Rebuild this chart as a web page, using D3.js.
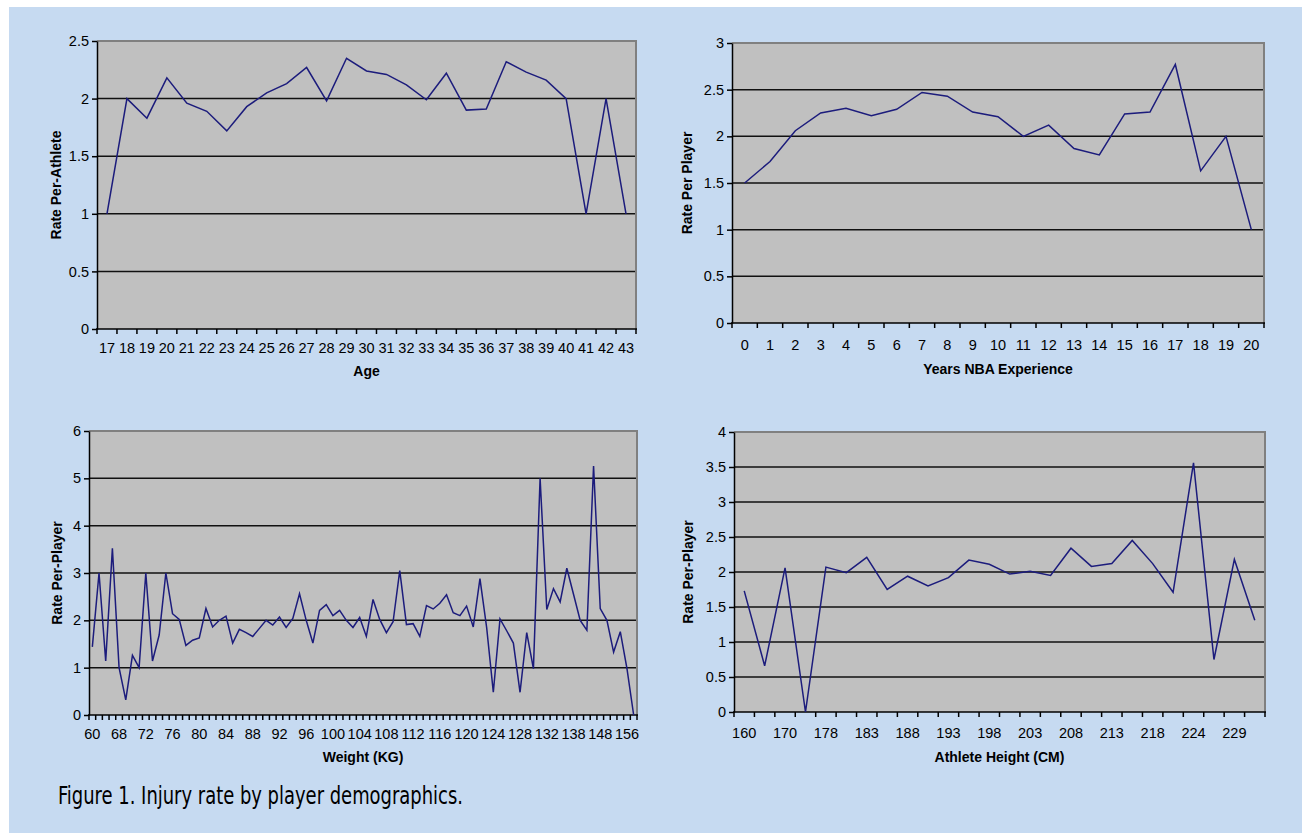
<!DOCTYPE html>
<html>
<head>
<meta charset="utf-8">
<script src="https://cdn.jsdelivr.net/npm/d3@7"></script>
<style>
  body { margin: 0; background: #fff; }
  svg { display: block; }
  text { font-family: "Liberation Sans", Arial, sans-serif; fill: #000; }
</style>
</head>
<body>
<svg id="fig" width="1302" height="833"></svg>
<script>
// --- data ---
const ageCats = [17, 18, 19, 20, 21, 22, 23, 24, 25, 26, 27, 28, 29, 30, 31, 32, 33, 34, 35, 36, 37, 38, 39, 40, 41, 42, 43];
const ageRates = [1.0, 2.0, 1.83, 2.18, 1.96, 1.89, 1.72, 1.93, 2.05, 2.13, 2.27, 1.98, 2.35, 2.24, 2.21, 2.12, 1.99, 2.22, 1.90, 1.91, 2.32, 2.23, 2.16, 2.0, 1.0, 2.0, 1.0];
const ageTicks = [0, 0.5, 1, 1.5, 2, 2.5];

const expCats = [0, 1, 2, 3, 4, 5, 6, 7, 8, 9, 10, 11, 12, 13, 14, 15, 16, 17, 18, 19, 20];
const expRates = [1.5, 1.73, 2.06, 2.25, 2.30, 2.22, 2.29, 2.47, 2.43, 2.26, 2.21, 2.0, 2.12, 1.87, 1.80, 2.24, 2.26, 2.77, 1.63, 2.0, 1.0];
const expTicks = [0, 0.5, 1, 1.5, 2, 2.5, 3];

const weightCats = [60, 62, 64, 66, 68, 69, 70, 71, 72, 73, 74, 75, 76, 77, 78, 79, 80, 81, 82, 83,
  84, 85, 86, 87, 88, 89, 90, 91, 92, 93, 94, 95, 96, 97, 98, 99, 100, 101, 102, 103,
  104, 105, 106, 107, 108, 109, 110, 111, 112, 113, 114, 115, 116, 117, 118, 119, 120, 121, 122, 123,
  124, 125, 126, 127, 128, 129, 130, 131, 132, 134, 135, 136, 138, 140, 143, 145, 148, 150, 152, 154,
  156, 159];
const weightRates = [1.44, 3.0, 1.14, 3.52, 1.0, 0.32, 1.26, 1.0, 3.0, 1.14, 1.69, 3.0, 2.14, 2.02, 1.47, 1.58, 1.63, 2.25, 1.86, 2.0,
  2.09, 1.52, 1.81, 1.74, 1.66, 1.83, 2.0, 1.90, 2.07, 1.85, 2.04, 2.56, 2.0, 1.52, 2.21, 2.33, 2.10, 2.21, 2.0, 1.85,
  2.06, 1.66, 2.44, 2.02, 1.74, 1.97, 3.05, 1.91, 1.93, 1.66, 2.31, 2.24, 2.36, 2.54, 2.16, 2.10, 2.30, 1.86, 2.88, 1.85,
  0.48, 2.03, 1.78, 1.52, 0.48, 1.74, 0.98, 5.0, 2.23, 2.67, 2.39, 3.10, 2.55, 2.0, 1.79, 5.26, 2.25, 2.0, 1.33, 1.76,
  0.98, 0];
const weightTicks = [0, 1, 2, 3, 4, 5, 6];

const heightCats = [160, 165, 170, 175, 178, 180, 183, 185, 188, 191, 193, 196, 198, 201, 203, 206, 208, 211, 213, 216, 218, 221, 224, 226, 229, 231];
const heightRates = [1.73, 0.66, 2.06, 0.0, 2.07, 1.99, 2.21, 1.75, 1.94, 1.80, 1.92, 2.17, 2.11, 1.97, 2.01, 1.95, 2.34, 2.08, 2.12, 2.45, 2.12, 1.71, 3.56, 0.75, 2.18, 1.31];
const heightTicks = [0, 0.5, 1, 1.5, 2, 2.5, 3, 3.5, 4];

const svg = d3.select("#fig");

// light blue figure background
svg.append("rect")
  .attr("x", 9).attr("y", 7)
  .attr("width", 1293).attr("height", 826)
  .attr("fill", "#c6daf1");

function drawPanel(p) {
  const x = d3.scaleBand().domain(p.cats).range([p.left, p.right]).padding(0);
  const y = d3.scaleLinear().domain([0, p.yTicks[p.yTicks.length - 1]]).range([p.bottom, p.top]);
  const g = svg.append("g");

  // plot area
  g.append("rect")
    .attr("x", p.left).attr("y", p.top)
    .attr("width", p.right - p.left).attr("height", p.bottom - p.top)
    .attr("fill", "#c0c0c0");

  // gridlines
  g.selectAll(".grid")
    .data(p.yTicks.slice(1, -1))
    .enter()
    .append("line")
    .attr("x1", p.left).attr("x2", p.right)
    .attr("y1", (d) => y(d)).attr("y2", (d) => y(d))
    .attr("stroke", "#111")
    .attr("stroke-width", 1.5);

  // top + right border
  g.append("path")
    .attr("d", `M${p.left},${p.top}H${p.right}V${p.bottom}`)
    .attr("fill", "none")
    .attr("stroke", "#808080")
    .attr("stroke-width", 2);

  // y axis
  const yAxis = g.append("g")
    .attr("transform", `translate(${p.left},0)`)
    .call(d3.axisLeft(y).tickValues(p.yTicks).tickSizeInner(5).tickSizeOuter(0).tickPadding(3).tickFormat(d3.format("")));
  yAxis.select(".domain").attr("stroke", "#000").attr("stroke-width", 1.5);
  yAxis.selectAll(".tick line").attr("stroke", "#000").attr("stroke-width", 1.5);
  yAxis.selectAll("text").style("font-size", "14.5px").attr("fill", "#000");

  // x axis: ticks on category boundaries
  const bounds = p.cats.map((c) => x(c)).concat([p.right]);
  g.selectAll(".xtick")
    .data(bounds)
    .enter()
    .append("line")
    .attr("x1", (d) => d).attr("x2", (d) => d)
    .attr("y1", p.bottom).attr("y2", p.bottom + 5)
    .attr("stroke", "#000")
    .attr("stroke-width", 1.5);
  g.append("line")
    .attr("x1", p.left - 1).attr("x2", p.right + 1)
    .attr("y1", p.bottom).attr("y2", p.bottom)
    .attr("stroke", "#000")
    .attr("stroke-width", 1.5);

  // x labels
  const xAxis = g.append("g")
    .attr("transform", `translate(0,${p.bottom})`)
    .call(d3.axisBottom(x).tickValues(p.cats.filter((d, i) => i % p.labelEvery === 0)).tickSize(0));
  xAxis.select(".domain").remove();
  xAxis.selectAll("text")
    .attr("y", p.labelOffset)
    .attr("dy", "0.35em")
    .style("font-size", "14.5px")
    .attr("fill", "#000");

  // series line
  const line = d3.line()
    .x((d, i) => x(p.cats[i]) + x.bandwidth() / 2)
    .y((d) => y(d));
  g.append("path")
    .datum(p.values)
    .attr("d", line)
    .attr("fill", "none")
    .attr("stroke", "#1c1c7c")
    .attr("stroke-width", 1.5)
    .attr("stroke-linejoin", "miter");

  // axis titles
  g.append("text")
    .attr("transform", `translate(${p.yTitleX},${(p.top + p.bottom) / 2}) rotate(-90)`)
    .attr("text-anchor", "middle")
    .attr("dy", "0.35em")
    .style("font-size", "14px")
    .style("font-weight", "bold")
    .text(p.yTitle);
  g.append("text")
    .attr("x", (p.left + p.right) / 2)
    .attr("y", p.xTitleY)
    .attr("text-anchor", "middle")
    .attr("dy", "0.35em")
    .style("font-size", "14px")
    .style("font-weight", "bold")
    .text(p.xTitle);
}

drawPanel({
  cats: ageCats, values: ageRates, yTicks: ageTicks, labelEvery: 1,
  left: 97, right: 636, top: 41, bottom: 329, labelOffset: 19,
  yTitle: "Rate Per-Athlete", yTitleX: 56, xTitle: "Age", xTitleY: 371
});
drawPanel({
  cats: expCats, values: expRates, yTicks: expTicks, labelEvery: 1,
  left: 732, right: 1264, top: 43, bottom: 323, labelOffset: 22,
  yTitle: "Rate Per Player", yTitleX: 687, xTitle: "Years NBA Experience", xTitleY: 369
});
drawPanel({
  cats: weightCats, values: weightRates, yTicks: weightTicks, labelEvery: 4,
  left: 89, right: 637, top: 431, bottom: 715, labelOffset: 19,
  yTitle: "Rate Per-Player", yTitleX: 57, xTitle: "Weight (KG)", xTitleY: 757
});
drawPanel({
  cats: heightCats, values: heightRates, yTicks: heightTicks, labelEvery: 2,
  left: 734, right: 1265, top: 432, bottom: 712, labelOffset: 21,
  yTitle: "Rate Per-Player", yTitleX: 688, xTitle: "Athlete Height (CM)", xTitleY: 757
});

// caption
svg.append("text")
  .attr("x", 58)
  .attr("y", 804)
  .style("font-family", "'Liberation Sans Narrow', 'Arial Narrow', 'DejaVu Sans Condensed', sans-serif")
  .style("font-size", "24px")
  .attr("textLength", 405)
  .attr("lengthAdjust", "spacingAndGlyphs")
  .attr("fill", "#2b2b2b")
  .text("Figure 1. Injury rate by player demographics.");
</script>
</body>
</html>
